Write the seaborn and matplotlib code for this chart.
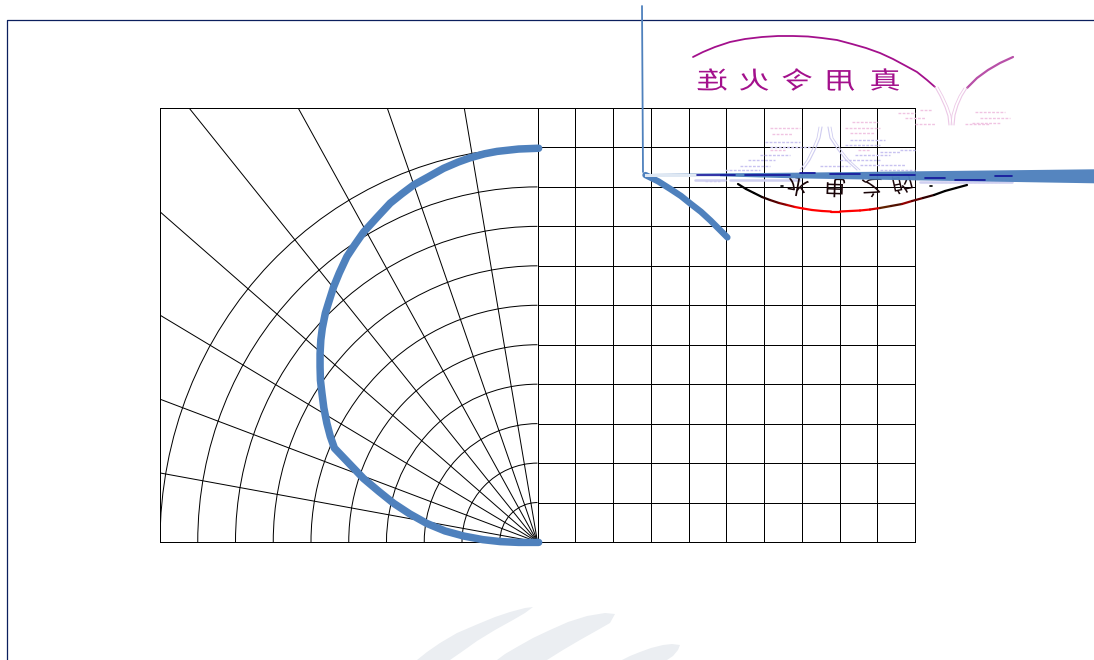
import numpy as np
import matplotlib
matplotlib.use("Agg")
import matplotlib.pyplot as plt
import seaborn as sns
from matplotlib.patches import Arc, Polygon
from matplotlib.patheffects import AbstractPathEffect
from matplotlib.transforms import Affine2D

# rejilla (unidades de la propia grafica)
grid_x = [0, 1, 2, 3, 4, 5, 6, 7, 8, 9, 10]
grid_y = [1, 2, 3, 4, 5, 6, 7, 8, 9, 10]
ring_r = [1, 2, 3, 4, 5, 6, 7, 8, 9, 10]
ray_end_x = [-9.23, -6.34, -3.98, -1.94, -10, -10, -10, -10]
ray_end_y = [11, 11, 11, 11, 8.37, 5.75, 3.62, 1.75]

# curvas azules
curve_x = [0.03, -0.5, -1.07, -1.4, -1.78, -2.1, -2.49, -2.9, -3.28, -3.6, -3.9, -4.25, -4.61,
           -4.85, -5.05, -5.25, -5.40, -5.53, -5.62, -5.70, -5.74, -5.76, -5.76, -5.75, -5.71,
           -5.66, -5.58, -5.49, -5.38, -5.0, -4.61, -4.2, -3.81, -3.38, -2.93, -2.45, -1.95,
           -1.45, -0.98, -0.5, 0.03]
curve_y = [9.98, 9.96, 9.90, 9.84, 9.74, 9.63, 9.47, 9.25, 9.05, 8.82, 8.59, 8.23, 7.85,
           7.52, 7.23, 6.82, 6.47, 6.08, 5.80, 5.42, 5.12, 4.77, 4.44, 4.10, 3.77,
           3.40, 3.01, 2.68, 2.38, 2.00, 1.61, 1.28, 0.98, 0.71, 0.47, 0.28, 0.15,
           0.06, 0.01, -0.01, -0.01]
short_x = [2.86, 3.2, 3.53, 3.8, 4.06, 4.33, 4.58, 4.8, 5.03]
short_y = [9.30, 9.14, 8.94, 8.77, 8.57, 8.37, 8.15, 7.94, 7.72]

# restos del logo, en pixeles de la imagen
top_chars = ["真", "用", "令", "火", "连"]
top_chars_x = [885, 842, 797, 754, 712]
low_chars = ["水", "电", "之", "的"]
low_chars_x = [798, 835, 872, 902]
low_chars_y = [188, 190, 190, 186]
low_chars_rot = [10, 2, -3, -12]

arc_top = [(693, 57), (703, 52), (715, 47), (730, 42), (745, 39), (762, 37), (778, 36), (793, 36),
           (808, 36.5), (822, 38), (837, 40), (852, 44), (866, 48), (880, 53), (893, 59), (906, 66),
           (917, 72), (927, 80), (935, 87)]
arc_right = [(1013, 57), (1000, 63), (988, 70), (977, 78), (967, 88)]
pale_left = [(935, 87), (940, 96), (945, 107), (948, 116), (949, 125)]
pale_right = [(967, 88), (962, 96), (958, 105), (955, 115), (954, 125)]
pale_mid_l = [(822, 127), (820, 138), (815, 150), (810, 160), (803, 170)]
pale_mid_r = [(828, 127), (830, 138), (838, 150), (846, 160), (857, 170)]
arc_red = [(738, 184), (746, 189), (754, 193), (762, 197), (770, 200), (779, 203), (787, 205),
           (795, 207), (803, 208.5), (812, 210), (822, 211), (831, 211.5), (840, 211.5), (850, 211),
           (860, 210.5), (870, 209.5), (880, 208), (891, 206), (902, 204), (912, 201), (923, 198),
           (934, 195), (945, 191), (956, 188), (967, 185)]
arc_red_colors = ["black", "black", "black", "#200000", "#500000", "#800000", "#c00000", "red",
                  "red", "red", "red", "red", "red", "red", "red", "#d00000", "#602000", "#501000",
                  "#900000", "#600000", "#300000", "black", "black", "black"]

leaf_1 = [(533, 607), (525, 608), (510, 612), (495, 617), (478, 624), (457, 633), (440, 643), (427, 652),
          (417, 660), (450, 660), (463, 651), (477, 641), (495, 630), (513, 620), (525, 613)]
leaf_2 = [(615, 614), (605, 613), (587, 616), (568, 622), (550, 630), (533, 638), (517, 647), (505, 654),
          (497, 660), (547, 660), (563, 650), (580, 640), (596, 631), (610, 623)]
leaf_3 = [(680, 645), (672, 644), (663, 645), (651, 648), (640, 652), (630, 656), (622, 660), (667, 660),
          (673, 656), (678, 650)]

# trazos sueltos: x0, x1, y
pink_dash = [(770, 800, 128), (772, 792, 134), (845, 880, 128), (850, 875, 133), (852, 878, 122),
             (898, 915, 113), (905, 925, 118), (920, 932, 110), (975, 1005, 112), (980, 1010, 118),
             (972, 1000, 123), (965, 990, 124), (915, 935, 124), (770, 785, 150), (858, 870, 150)]
blue_dash = [(765, 800, 142), (770, 810, 147), (760, 790, 155), (748, 775, 160), (740, 770, 166),
             (850, 885, 140), (845, 880, 145), (855, 890, 155), (840, 880, 160), (860, 905, 165),
             (725, 760, 170), (880, 915, 170), (820, 850, 166), (705, 720, 181), (1000, 1010, 180),
             (940, 1000, 182), (900, 915, 150), (880, 900, 152)]
navy_dash = [(697, 735, 175), (745, 790, 175), (800, 815, 173), (830, 860, 174), (870, 915, 175),
             (925, 945, 178), (955, 985, 180), (995, 1012, 176)]
lav_band = [(695, 725, 180), (730, 800, 180), (920, 1012, 182)]
black_dots = [(781, 186), (930, 186)]


class Espejo(AbstractPathEffect):
    # dibuja el texto reflejado sobre su propio centro
    def __init__(self, sx, sy):
        super().__init__()
        self.sx, self.sy = sx, sy

    def draw_path(self, renderer, gc, tpath, affine, rgbFace=None):
        bb = tpath.get_extents(affine)
        flip = Affine2D().translate(-bb.x0 - bb.width / 2, -bb.y0 - bb.height / 2) \
            .scale(self.sx, self.sy).translate(bb.x0 + bb.width / 2, bb.y0 + bb.height / 2)
        renderer.draw_path(gc, tpath, affine + flip, rgbFace)


def linea(ax, pts, **kw):
    ax.plot([p[0] for p in pts], [p[1] for p in pts], **kw)


sns.set_theme(style="white")
plt.rcParams["font.family"] = ["Noto Sans CJK SC", "DejaVu Sans"]
W, H = 1094, 660
BLUE = "#4f81bd"
fig = plt.figure(figsize=(W / 100, H / 100), dpi=100, facecolor="white")

# grafica principal
ax = fig.add_axes([160 / W, (H - 542) / H, 755 / W, 434 / H])
ax.set_xlim(-10, 10)
ax.set_ylim(0, 11)
ax.set_xticks([])
ax.set_yticks([])
for s in ax.spines.values():
    s.set_color("black")
    s.set_linewidth(0.72)
ax.vlines(grid_x, 0, 11, color="black", lw=0.72)
ax.hlines(grid_y, 0, 10, color="black", lw=0.72)
for r in ring_r:
    ax.add_patch(Arc((0, 0), 2 * r, 2 * r, theta1=90, theta2=180, color="black", lw=0.72))
for xe, ye in zip(ray_end_x, ray_end_y):
    ax.plot([0, xe], [0, ye], color="black", lw=0.72)
sns.lineplot(x=curve_x, y=curve_y, sort=False, estimator=None, color=BLUE, linewidth=5.4,
             solid_capstyle="round", solid_joinstyle="round", clip_on=False, zorder=5, ax=ax)
sns.lineplot(x=short_x, y=short_y, sort=False, estimator=None, color=BLUE, linewidth=4.6,
             solid_capstyle="round", clip_on=False, zorder=5, ax=ax)

# capa en pixeles para el marco y el logo
ov = fig.add_axes([0, 0, 1, 1], facecolor="none")
ov.set_xlim(0, W)
ov.set_ylim(H, 0)
ov.axis("off")

# marca de agua
for leaf in (leaf_1, leaf_2, leaf_3):
    ov.add_patch(Polygon(leaf, closed=True, fc="#ebeef2", ec="none", zorder=1))
# marco
linea(ov, [(6.8, H), (6.8, 19.8), (W, 19.8)], color="#0b1f5e", lw=0.9, zorder=2)

# logo superior
for ch, x in zip(top_chars, top_chars_x):
    ov.text(x, 82, ch, color="#a3108c", fontsize=19, ha="center", va="center",
            path_effects=[Espejo(-1.18, 0.92)], zorder=3)
linea(ov, arc_top, color="#a3108c", lw=1.3, zorder=3)
linea(ov, arc_right, color="#b850a8", lw=1.6, zorder=3)
for pts, col, shift in ((pale_left, "#ecc8e6", 3), (pale_right, "#ecc8e6", -3),
                        (pale_mid_l, "#cfccf0", -3), (pale_mid_r, "#cfccf0", 3)):
    linea(ov, pts, color=col, lw=0.8, zorder=3)
    linea(ov, [(p[0] + shift, p[1]) for p in pts], color=col, lw=0.6, zorder=3)
for x0, x1, y in pink_dash:
    ov.plot([x0, x1], [y, y], color="#f0c4e2", lw=1, ls=(0, (2, 1)), zorder=3)
for x0, x1, y in blue_dash:
    ov.plot([x0, x1], [y, y], color="#c8c2f0", lw=1, ls=(0, (2, 1)), zorder=3)
for x0, x1, y in lav_band:
    ov.plot([x0, x1], [y, y], color="#cfcff0", lw=1.8, zorder=3)

# arco rojo y letras de abajo
for i, col in enumerate(arc_red_colors):
    linea(ov, arc_red[i:i + 2], color=col, lw=1.6, solid_capstyle="round", zorder=4)
for ch, x, y, rot in zip(low_chars, low_chars_x, low_chars_y, low_chars_rot):
    ov.text(x, y, ch, color="#1a0508", fontsize=15, ha="center", va="center", rotation=rot,
            path_effects=[Espejo(1.05, -1)], zorder=4)
for x, y in black_dots:
    ov.plot([x, x + 2], [y, y], color="black", lw=1.2, zorder=4)

# linea fina y barra azul
linea(ov, [(642, 6), (643, 172)], color=BLUE, lw=1.3, zorder=6)
ov.add_patch(Polygon([(645, 174), (793, 172.7), (1094, 169.3), (1094, 183.3), (793, 178.3), (700, 175.8), (645, 175)],
                     closed=True, fc=BLUE, ec="none", alpha=0.97, zorder=6))
ov.add_patch(Polygon([(645, 173.5), (720, 173.5), (720, 176.5), (645, 176.5)], closed=True,
                     fc="#dfe8f3", ec="none", zorder=7))
for x0, x1, y in navy_dash:
    ov.plot([x0, x1], [y, y], color="#12129a", lw=1.2, zorder=8)

fig.savefig("out.png", dpi=100)
